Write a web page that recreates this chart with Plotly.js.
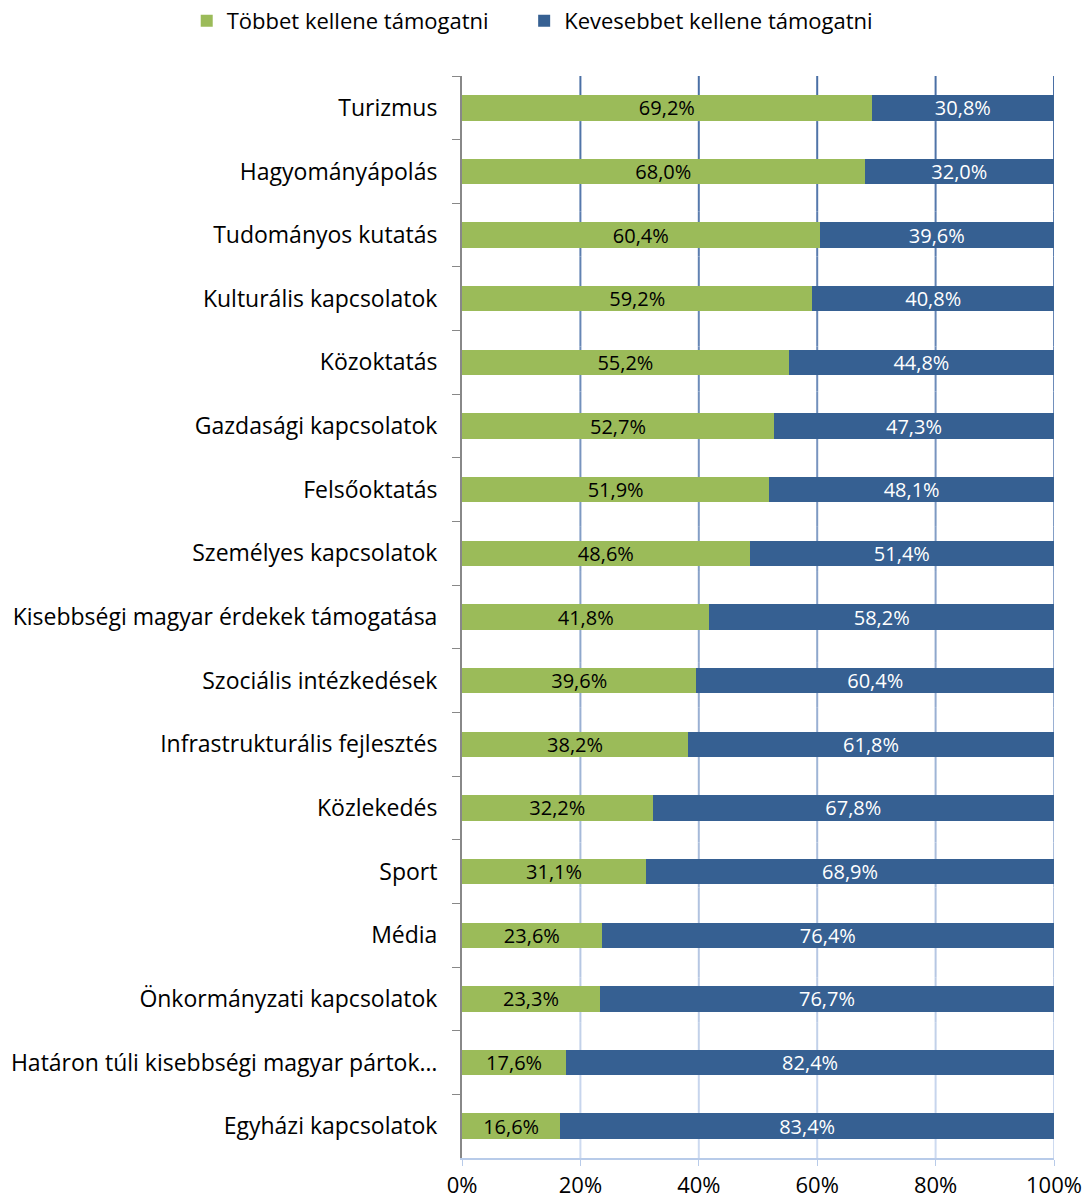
<!DOCTYPE html>
<html>
<head>
<meta charset="utf-8">
<script src="https://cdn.plot.ly/plotly-3.0.1.min.js"></script>
<style>html,body{margin:0;padding:0;background:#fff;}#chart{width:1089px;height:1204px;}</style>
</head>
<body>
<div id="chart"></div>
<script>
const categories = [
  "Turizmus",
  "Hagyományápolás",
  "Tudományos kutatás",
  "Kulturális kapcsolatok",
  "Közoktatás",
  "Gazdasági kapcsolatok",
  "Felsőoktatás",
  "Személyes kapcsolatok",
  "Kisebbségi magyar érdekek támogatása",
  "Szociális intézkedések",
  "Infrastrukturális fejlesztés",
  "Közlekedés",
  "Sport",
  "Média",
  "Önkormányzati kapcsolatok",
  "Határon túli kisebbségi magyar pártok…",
  "Egyházi kapcsolatok"
];
const tobbet = [69.2, 68.0, 60.4, 59.2, 55.2, 52.7, 51.9, 48.6, 41.8, 39.6, 38.2, 32.2, 31.1, 23.6, 23.3, 17.6, 16.6];
const kevesebbet = [30.8, 32.0, 39.6, 40.8, 44.8, 47.3, 48.1, 51.4, 58.2, 60.4, 61.8, 67.8, 68.9, 76.4, 76.7, 82.4, 83.4];
const seriesNames = ["Többet kellene támogatni", "Kevesebbet kellene támogatni"];
const xTicks = [0, 20, 40, 60, 80, 100];
const xTickLabels = ["0%", "20%", "40%", "60%", "80%", "100%"];

const FONT = "Open Sans, Noto Sans, sans-serif";
const fmt = v => v.toFixed(1).replace(".", ",") + "%";

const traces = [
  {
    type: "bar", orientation: "h", name: seriesNames[0], legend: "legend",
    y: categories, x: tobbet,
    marker: {color: "#9bbb59"},
    text: tobbet.map(fmt), textposition: "inside", insidetextanchor: "middle",
    textfont: {color: "#000000", size: 20, family: FONT},
    constraintext: "none", hoverinfo: "x+y"
  },
  {
    type: "bar", orientation: "h", name: seriesNames[1], legend: "legend2",
    y: categories, x: kevesebbet,
    marker: {color: "#366092"},
    text: kevesebbet.map(fmt), textposition: "inside", insidetextanchor: "middle",
    textfont: {color: "#ffffff", size: 20, family: FONT},
    constraintext: "none", hoverinfo: "x+y"
  }
];

// gradient gridlines (dark at top, light at bottom)
const shapes = [];
const nSeg = 24;
const c0 = [74, 111, 165], c1 = [205, 218, 240];
xTicks.slice(1).forEach(t => {
  for (let i = 0; i < nSeg; i++) {
    const f = i / (nSeg - 1);
    const c = c0.map((a, k) => Math.round(a + (c1[k] - a) * f));
    shapes.push({
      type: "line", xref: "x", yref: "paper", layer: "below",
      x0: t, x1: t, y0: 1 - i / nSeg, y1: 1 - (i + 1) / nSeg,
      line: {color: `rgb(${c[0]},${c[1]},${c[2]})`, width: 2}
    });
  }
});

const legendBase = {
  orientation: "h", xanchor: "left", xref: "paper",
  y: 1, yanchor: "top", yref: "container",
  font: {size: 22, family: FONT, color: "#000000"},
  itemwidth: 30, bgcolor: "rgba(0,0,0,0)"
};

const layout = {
  width: 1089, height: 1204,
  margin: {l: 462, r: 35, t: 76, b: 46},
  barmode: "stack", bargap: 0.6,
  paper_bgcolor: "#ffffff", plot_bgcolor: "#ffffff",
  font: {family: FONT, color: "#000000"},
  showlegend: true,
  legend: Object.assign({}, legendBase, {x: -0.465}),
  legend2: Object.assign({}, legendBase, {x: 0.105}),
  xaxis: {
    range: [0, 100], tickvals: xTicks, ticktext: xTickLabels,
    showgrid: false, zeroline: false,
    showline: true, linecolor: "#b8cbe9", linewidth: 2,
    ticks: "outside", ticklen: 6, tickcolor: "#b8cbe9",
    tickfont: {size: 22, family: FONT, color: "#000000"},
    ticklabelstandoff: 1,
    fixedrange: true
  },
  yaxis: {
    type: "category", autorange: "reversed",
    showline: true, linecolor: "#888888", linewidth: 2,
    ticks: "outside", ticklen: 8, tickcolor: "#888888", tickson: "boundaries",
    showgrid: false, zeroline: false,
    tickfont: {size: 23, family: FONT, color: "#000000"},
    ticklabelstandoff: 18,
    fixedrange: true
  },
  shapes: shapes
};

Plotly.newPlot("chart", traces, layout, {displayModeBar: false, staticPlot: true});
</script>
</body>
</html>
